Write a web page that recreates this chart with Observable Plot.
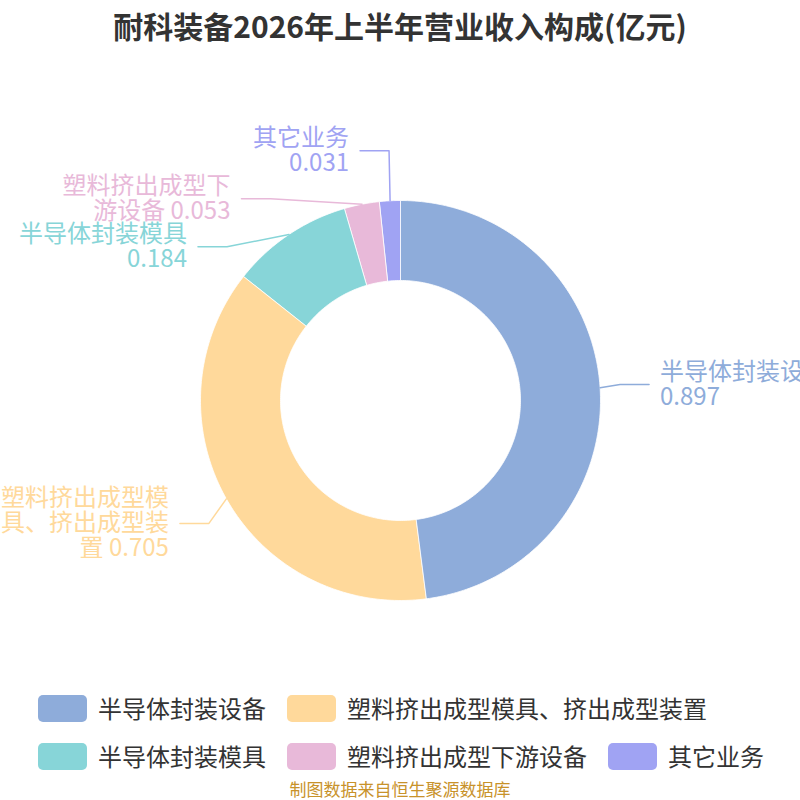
<!DOCTYPE html>
<html><head><meta charset="utf-8">
<script src="https://cdn.jsdelivr.net/npm/d3@7"></script>
<script src="https://cdn.jsdelivr.net/npm/@observablehq/plot@0.6"></script>
<style>
html,body{margin:0;padding:0;background:#fff;overflow:hidden;width:800px;height:800px;}
body{font-family:"Noto Sans CJK SC","Noto Sans",sans-serif;}
#title{height:50px;line-height:50px;text-align:center;font-size:30px;font-weight:bold;color:#333;white-space:nowrap;}
#chart svg{display:block;overflow:hidden;}
#legend{position:relative;height:130px;}
.row{position:absolute;left:38px;display:flex;align-items:center;height:28px;}
.item{display:flex;align-items:center;margin-right:21px;}
.sw{width:49px;height:27px;border-radius:5px;margin-right:11px;}
.lt{font-size:24px;color:#333;line-height:28px;white-space:nowrap;}
#caption{position:absolute;left:0;width:800px;top:109px;line-height:20px;text-align:center;font-size:17px;color:#c8922a;}
</style></head>
<body>
<div id="title">耐科装备2026年上半年营业收入构成(亿元)</div>
<div id="chart"></div>
<div id="legend"></div>
<script>
// ---- data ----
const categories = ["半导体封装设备", "塑料挤出成型模具、挤出成型装置", "半导体封装模具", "塑料挤出成型下游设备", "其它业务"];
const values = [0.897, 0.705, 0.184, 0.053, 0.031];
const colors = ["#8eacda", "#ffd99b", "#87d5d8", "#e8b9d9", "#a0a3f3"];
const labelTexts = ["半导体封装设备\n0.897", "塑料挤出成型模\n具、挤出成型装\n置 0.705", "半导体封装模具\n0.184", "塑料挤出成型下\n游设备 0.053", "其它业务\n0.031"];
const legendRows = [[0, 1], [2, 3, 4]];
const caption = "制图数据来自恒生聚源数据库";

// ---- geometry parameters (chart units: 1 unit = 1px) ----
const R = 200, r0 = 120, rLabel = 250, rElbow = 220, len2 = 29, textGap = 11, lineH = 24;

const pie = d3.pie().sort(null).value(d => d)(values);

// slice polygons
const slicePts = [];
pie.forEach((p, i) => {
  const n = Math.max(2, Math.ceil((p.endAngle - p.startAngle) / (Math.PI / 180))) + 1;
  const outer = [], inner = [];
  for (let k = 0; k < n; k++) {
    const a = p.startAngle + (p.endAngle - p.startAngle) * k / (n - 1);
    outer.push({name: categories[i], x: R * Math.sin(a), y: R * Math.cos(a)});
    inner.push({name: categories[i], x: r0 * Math.sin(a), y: r0 * Math.cos(a)});
  }
  slicePts.push(...outer, ...inner.reverse());
});

// labels: natural position, then push overlapping labels downward (per side)
const labels = pie.map((p, i) => {
  const mid = (p.startAngle + p.endAngle) / 2;
  const nLines = labelTexts[i].split("\n").length;
  return {i, name: categories[i], text: labelTexts[i], mid,
    side: Math.sin(mid) >= 0 ? 1 : -1,
    sx: R * Math.sin(mid), sy: R * Math.cos(mid),
    ly: rLabel * Math.cos(mid), h: nLines * lineH};
});
for (const side of [1, -1]) {
  const L = labels.filter(d => d.side === side).sort((a, b) => b.ly - a.ly);
  let lastBottom = Infinity;
  L.forEach(d => {
    const top = d.ly + d.h / 2;
    if (top > lastBottom) d.ly -= top - lastBottom;
    lastBottom = d.ly - d.h / 2;
  });
  const b = Math.max(rLabel, d3.max(L, d => Math.abs(d.ly)) || 0);
  L.forEach(d => {
    const ex = side * rElbow * Math.sqrt(Math.max(0, 1 - (d.ly * d.ly) / (b * b)));
    d.ex = side > 0 ? Math.max(ex, d.sx) : Math.min(ex, d.sx);
    d.endx = d.ex + side * len2;
    d.tx = d.endx + side * textGap;
  });
}
const leaderPts = labels.flatMap(d => [
  {name: d.name, x: d.sx, y: d.sy},
  {name: d.name, x: d.ex, y: d.ly},
  {name: d.name, x: d.endx, y: d.ly}
]);

const chart = Plot.plot({
  width: 800, height: 620, margin: 0,
  x: {domain: [-400, 400], axis: null},
  y: {domain: [-270, 350], axis: null},
  color: {domain: categories, range: colors},
  style: {fontFamily: '"Noto Sans CJK SC", "Noto Sans", sans-serif', background: "#fff"},
  marks: [
    Plot.line(slicePts, {x: "x", y: "y", z: "name", fill: "name", stroke: "#fff", strokeWidth: 0.8, curve: "linear-closed"}),
    Plot.line(leaderPts, {x: "x", y: "y", z: "name", stroke: "name", strokeWidth: 1.5}),
    Plot.text(labels.filter(d => d.side > 0), {x: "tx", y: "ly", text: "text", fill: "name", fontSize: 24, textAnchor: "start", lineHeight: 1.04}),
    Plot.text(labels.filter(d => d.side < 0), {x: "tx", y: "ly", text: "text", fill: "name", fontSize: 24, textAnchor: "end", lineHeight: 1.04})
  ]
});
document.getElementById("chart").appendChild(chart);

// legend
const legend = document.getElementById("legend");
const colorOf = chart.scale("color");
legendRows.forEach((row, ri) => {
  const div = document.createElement("div");
  div.className = "row";
  div.style.top = (24 + ri * 48) + "px";
  row.forEach(i => {
    const it = document.createElement("div");
    it.className = "item";
    const sw = document.createElement("div");
    sw.className = "sw";
    sw.style.background = colorOf.range[colorOf.domain.indexOf(categories[i])];
    const t = document.createElement("span");
    t.className = "lt";
    t.textContent = categories[i];
    it.appendChild(sw); it.appendChild(t);
    div.appendChild(it);
  });
  legend.appendChild(div);
});
const cap = document.createElement("div");
cap.id = "caption";
cap.textContent = caption;
legend.appendChild(cap);
</script>
</body></html>
